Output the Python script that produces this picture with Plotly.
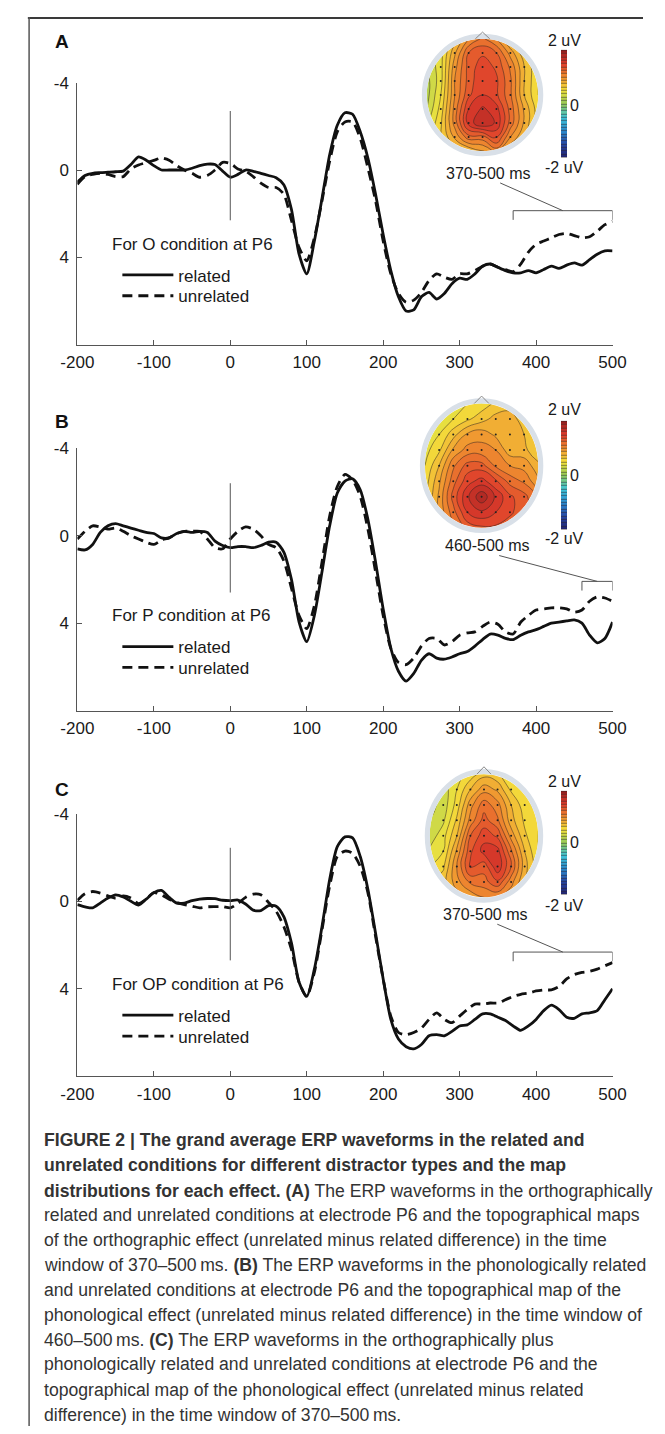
import plotly.graph_objects as go

PAGE_W, PAGE_H = 665, 1434
OFF = 8                      # default page margin of the html body
W, H = PAGE_W - 2 * OFF, PAGE_H - 2 * OFF
FONT = "Liberation Sans, Arial, Helvetica, sans-serif"

# ---------------- data ----------------
time_ms = list(range(-200, 501, 10))

A_related = [0.55, 0.25, 0.15, 0.12, 0.1, 0.08, 0.05, -0.25, -0.6, -0.45,
             -0.2, 0.0, 0.0, 0.0, 0.0, -0.08, -0.2, -0.27, -0.25, 0.05,
             0.33, 0.2, 0.0, 0.06, 0.15, 0.25, 0.35, 0.67, 1.8, 3.85,
             4.75, 3.25, 1.3, -0.7, -2.05, -2.62, -2.55, -1.75, -0.55, 1.1,
             2.95, 4.6, 5.8, 6.45, 6.4, 5.8, 5.6, 5.9, 5.65, 5.2,
             4.95, 5.0, 4.75, 4.4, 4.3, 4.45, 4.6, 4.7, 4.7, 4.6,
             4.7, 4.55, 4.4, 4.5, 4.35, 4.25, 4.35, 4.1, 3.85, 3.7, 3.7]
A_unrelated = [0.65, 0.3, 0.2, 0.15, 0.2, 0.3, 0.3, -0.05, -0.23, -0.34,
               -0.44, -0.55, -0.45, -0.2, 0.0, 0.15, 0.33, 0.25, 0.0, -0.35,
               -0.3, -0.05, 0.05, 0.3, 0.6, 0.8, 0.8, 1.1, 2.3, 3.55,
               4.15, 3.1, 1.4, -0.4, -1.75, -2.2, -2.2, -1.45, -0.1, 1.4,
               3.25, 4.75, 5.65, 6.05, 5.95, 5.6, 5.05, 4.75, 4.9, 5.0,
               4.75, 4.75, 4.6, 4.4, 4.3, 4.45, 4.55, 4.65, 4.3, 3.75,
               3.4, 3.25, 3.1, 2.95, 2.9, 3.0, 3.1, 3.05, 2.8, 2.5, 2.35]
B_related = [0.6, 0.65, 0.4, -0.15, -0.45, -0.55, -0.45, -0.35, -0.25, -0.15,
             -0.1, 0.1, 0.1, -0.1, -0.2, -0.15, -0.2, -0.15, 0.25, 0.45,
             0.55, 0.5, 0.5, 0.55, 0.45, 0.3, 0.3, 0.75, 2.0, 3.95,
             4.85, 3.65, 1.65, -0.45, -1.95, -2.5, -2.6, -2.1, -0.75, 1.2,
             3.35, 5.15, 6.2, 6.65, 6.3, 5.7, 5.4, 5.6, 5.65, 5.55,
             5.4, 5.3, 5.05, 4.75, 4.5, 4.55, 4.7, 4.75, 4.55, 4.4,
             4.3, 4.15, 4.0, 3.95, 3.9, 3.85, 4.0, 4.55, 4.9, 4.7, 3.95]
B_unrelated = [0.15, -0.2, -0.45, -0.4, -0.3, -0.35, -0.2, 0.0, 0.15, 0.3,
               0.4, 0.2, 0.1, -0.1, -0.2, -0.2, -0.2, 0.15, 0.55, 0.6,
               0.15, -0.2, -0.4, -0.3, 0.0, 0.4, 0.55, 1.15, 2.4, 3.65,
               4.25, 3.2, 1.2, -0.9, -2.25, -2.8, -2.55, -1.8, -0.3, 1.65,
               3.65, 5.15, 5.8, 5.9, 5.6, 5.05, 4.7, 4.7, 5.0, 4.85,
               4.55, 4.45, 4.4, 4.15, 3.95, 4.05, 4.4, 4.5, 3.95, 3.65,
               3.4, 3.35, 3.3, 3.3, 3.35, 3.5, 3.4, 3.0, 2.8, 2.85, 3.0]
C_related = [0.15, 0.25, 0.3, 0.08, -0.15, -0.3, -0.2, 0.0, 0.17, -0.1,
             -0.4, -0.5, -0.18, 0.08, 0.08, -0.03, -0.1, -0.13, -0.12, -0.05,
             -0.03, -0.06, 0.12, 0.4, 0.42, 0.2, 0.22, 0.7, 1.9, 3.7,
             4.35, 3.1, 1.15, -1.0, -2.5, -2.95, -2.9, -2.05, -0.55, 1.45,
             3.55, 5.4, 6.3, 6.65, 6.75, 6.55, 6.15, 6.1, 6.15, 5.95,
             5.7, 5.65, 5.4, 5.15, 5.15, 5.3, 5.45, 5.7, 5.9, 5.7,
             5.4, 5.0, 4.75, 4.95, 5.3, 5.35, 5.15, 5.1, 5.0, 4.5, 4.0]
C_unrelated = [-0.05, -0.35, -0.45, -0.38, -0.25, -0.15, -0.25, -0.15, 0.1, -0.1,
               -0.4, -0.3, -0.1, 0.05, 0.15, 0.22, 0.3, 0.25, 0.24, 0.24,
               0.3, 0.1, -0.18, -0.33, -0.3, 0.05, 0.45, 1.15, 2.2, 3.7,
               4.35, 3.25, 1.3, -0.7, -2.05, -2.3, -2.2, -1.6, -0.4, 1.6,
               3.55, 5.25, 6.0, 6.1, 6.0, 5.8, 5.4, 5.1, 5.4, 5.55,
               5.25, 4.95, 4.7, 4.7, 4.65, 4.65, 4.5, 4.35, 4.25, 4.2,
               4.1, 4.05, 4.05, 3.9, 3.55, 3.35, 3.25, 3.2, 3.1, 2.95, 2.8]

x_ticks = [-200, -100, 0, 100, 200, 300, 400, 500]
x_tick_labels = ["-200", "-100", "0", "100", "200", "300", "400", "500"]
y_ticks = [-4, 0, 4]
y_tick_labels = ["-4", "0", "4"]

panel_letters = ["A", "B", "C"]
panel_titles = ["For O condition at P6", "For P condition at P6", "For OP condition at P6"]
series_names = ["related", "unrelated"]
windows = [(370, 500), (460, 500), (370, 500)]
window_labels = ["370-500 ms", "460-500 ms", "370-500 ms"]
scale_labels = ["2 uV", "0", "-2 uV"]

# topographic maps (uV) on an electrode grid; rows run from front (top) to back (bottom)
grid_x = [-1.0, -0.75, -0.5, -0.25, 0.0, 0.25, 0.5, 0.75, 1.0]
grid_y = [1.0, 0.75, 0.5, 0.25, 0.0, -0.25, -0.5, -0.75, -1.0]
topo_A = [
    [0.35, 0.45, 0.7, 1.0, 1.15, 1.0, 0.7, 0.55, 0.45],
    [0.3, 0.45, 0.85, 1.25, 1.35, 1.25, 0.95, 0.65, 0.5],
    [0.25, 0.45, 0.95, 1.3, 1.45, 1.35, 1.1, 0.75, 0.5],
    [0.2, 0.45, 1.0, 1.3, 1.5, 1.4, 1.15, 0.75, 0.5],
    [0.2, 0.5, 1.0, 1.35, 1.5, 1.4, 1.15, 0.75, 0.5],
    [0.25, 0.55, 1.05, 1.5, 1.65, 1.55, 1.2, 0.85, 0.55],
    [0.35, 0.6, 1.05, 1.55, 1.75, 1.6, 1.2, 0.85, 0.55],
    [0.45, 0.6, 0.9, 1.2, 1.2, 1.4, 1.0, 0.75, 0.55],
    [0.45, 0.55, 0.65, 0.75, 0.85, 1.05, 0.75, 0.6, 0.5],
]
topo_B = [
    [0.4, 0.4, 0.45, 0.5, 0.55, 0.65, 0.7, 0.7, 0.6],
    [0.4, 0.4, 0.5, 0.6, 0.7, 0.8, 0.8, 0.7, 0.6],
    [0.4, 0.5, 0.7, 0.9, 0.95, 0.85, 0.8, 0.75, 0.6],
    [0.45, 0.6, 0.9, 1.05, 1.05, 1.0, 0.8, 0.8, 0.6],
    [0.5, 0.75, 1.1, 1.3, 1.3, 1.1, 1.0, 0.95, 0.8],
    [0.55, 0.85, 1.2, 1.45, 1.55, 1.4, 1.2, 1.1, 0.9],
    [0.6, 0.9, 1.3, 1.6, 1.85, 1.6, 1.4, 1.3, 1.1],
    [0.7, 0.9, 1.2, 1.5, 1.6, 1.5, 1.4, 1.3, 1.1],
    [0.7, 0.85, 1.1, 1.3, 1.35, 1.35, 1.3, 1.2, 1.0],
]
topo_C = [
    [0.3, 0.35, 0.45, 0.55, 0.7, 0.65, 0.5, 0.45, 0.4],
    [0.2, 0.3, 0.5, 0.75, 0.95, 0.85, 0.6, 0.5, 0.45],
    [0.2, 0.3, 0.55, 0.95, 1.2, 1.05, 0.75, 0.55, 0.45],
    [0.25, 0.35, 0.65, 1.05, 1.3, 1.15, 0.8, 0.6, 0.5],
    [0.3, 0.45, 0.75, 1.25, 1.45, 1.35, 0.95, 0.65, 0.5],
    [0.4, 0.5, 0.9, 1.35, 1.55, 1.55, 1.15, 0.75, 0.5],
    [0.5, 0.6, 1.0, 1.4, 1.3, 1.6, 1.25, 0.8, 0.55],
    [0.6, 0.7, 0.95, 1.15, 1.2, 1.35, 1.05, 0.75, 0.6],
    [0.6, 0.7, 0.8, 0.9, 1.0, 1.0, 0.9, 0.7, 0.6],
]

caption_lines = [
    "<b>FIGURE 2 | The grand average ERP waveforms in the related and</b>",
    "<b>unrelated conditions for different distractor types and the map</b>",
    "<b>distributions for each effect. (A)</b> The ERP waveforms in the orthographically",
    "related and unrelated conditions at electrode P6 and the topographical maps",
    "of the orthographic effect (unrelated minus related difference) in the time",
    "window of 370\u2013500\u2009ms. <b>(B)</b> The ERP waveforms in the phonologically related",
    "and unrelated conditions at electrode P6 and the topographical map of the",
    "phonological effect (unrelated minus related difference) in the time window of",
    "460\u2013500\u2009ms. <b>(C)</b> The ERP waveforms in the orthographically plus",
    "phonologically related and unrelated conditions at electrode P6 and the",
    "topographical map of the phonological effect (unrelated minus related",
    "difference) in the time window of 370\u2013500\u2009ms.",
]

# ---------------- layout geometry (page pixels) ----------------
PL, PR, PH = 63, 625, 264
geo = [
    dict(top=74, letter_y=33, head=(488.5, 86.5, 58.5, 56.5), cb=(42, 149), lab2=32, labm2=159,
         lab0=97, win=(495, 165), br=1.86, zero=(-2.7, 2.3), title_y=237, leg_y=(268, 289)),
    dict(top=442, letter_y=415, head=(487.5, 459.5, 59.5, 62.5), cb=(415, 523), lab2=403, labm2=533,
         lab0=469, win=(494, 540), br=2.09, zero=(-2.4, 2.6), title_y=610, leg_y=(642, 663)),
    dict(top=810, letter_y=785, head=(490, 832, 57, 62), cb=(787, 890), lab2=777, labm2=902,
         lab0=839, win=(492, 911), br=2.32, zero=(-2.45, 2.7), title_y=982, leg_y=(1013, 1034)),
]

JET = [[0.0, "#23236f"], [0.125, "#2648a5"], [0.25, "#2b8ccf"], [0.375, "#3fc5d8"],
       [0.5, "#93c95a"], [0.625, "#f3e23c"], [0.75, "#ef8f2f"], [0.875, "#de3b2b"],
       [1.0, "#98201f"]]


def px(x):
    return (x - OFF) / W


def py(y):
    return 1 - (y - OFF) / H


def circle_path(b=1.3, k=0.5523):
    box = f"M-{b},-{b} L{b},-{b} L{b},{b} L-{b},{b} Z "
    circ = (f"M1,0 C1,-{k} {k},-1 0,-1 C-{k},-1 -1,-{k} -1,0 "
            f"C-1,{k} -{k},1 0,1 C{k},1 1,{k} 1,0 Z")
    return box + circ


def text_ann(x, y, text, size, xanchor="center", color="#1a1a1a"):
    return dict(x=px(x), y=py(y), xref="paper", yref="paper", xanchor=xanchor, yanchor="middle",
                text=text, showarrow=False, font=dict(family=FONT, size=size, color=color))


fig = go.Figure()
shapes, annotations = [], []
layout = {}
series = [(A_related, A_unrelated), (B_related, B_unrelated), (C_related, C_unrelated)]
topos = [topo_A, topo_B, topo_C]
grid_y_asc = grid_y[::-1]

for i in range(3):
    g = geo[i]
    sfx = "" if i == 0 else str(i + 1)
    hs = str(i + 4)
    top = g["top"]
    bot = top + PH

    def xp(t):
        return PL + (t + 200) * (PR - PL) / 700.0

    def yp(v, top=top):
        return top + (v + 4) * PH / 12.0

    rel, unr = series[i]
    for k, (vals, dash) in enumerate([(rel, "solid"), (unr, "10px,6px")]):
        j = 2 * i + k
        lg = "legend" if j == 0 else f"legend{j + 1}"
        fig.add_trace(go.Scatter(
            x=time_ms, y=vals, mode="lines", name=series_names[k],
            line=dict(color="#111111", width=2.8, dash=dash, shape="spline", smoothing=0.7),
            xaxis="x" + sfx, yaxis="y" + sfx, legend=lg, hoverinfo="skip"))
        layout[lg] = dict(
            x=px(105), y=py(g["leg_y"][k]), xanchor="left", yanchor="middle",
            font=dict(family=FONT, size=17, color="#1a1a1a"), bgcolor="rgba(0,0,0,0)",
            borderwidth=0, itemwidth=51, tracegroupgap=0)

    layout["xaxis" + sfx] = dict(
        domain=[px(PL), px(PR)], range=[-200, 500], anchor="y" + sfx,
        showline=True, linecolor="#555555", linewidth=1, ticks="inside", ticklen=5,
        tickcolor="#555555", tickvals=x_ticks, ticktext=x_tick_labels, showgrid=False,
        zeroline=False, tickfont=dict(family=FONT, size=17, color="#1a1a1a"),
        ticklabelstandoff=2, fixedrange=True)
    layout["yaxis" + sfx] = dict(
        domain=[py(bot), py(top)], range=[8, -4], anchor="x" + sfx,
        showline=True, linecolor="#555555", linewidth=1, ticks="inside", ticklen=5,
        tickcolor="#555555", tickvals=y_ticks, ticktext=y_tick_labels, showgrid=False,
        zeroline=False, tickfont=dict(family=FONT, size=17, color="#1a1a1a"),
        ticklabelstandoff=4, fixedrange=True)

    # stimulus-onset marker
    shapes.append(dict(type="line", xref="x" + sfx, yref="y" + sfx, x0=0, x1=0,
                       y0=g["zero"][0], y1=g["zero"][1], line=dict(color="#555555", width=1)))
    # time-window bracket
    w0, w1 = windows[i]
    bv = g["br"]
    for (a, b, c, d) in [(w0, bv, w1, bv), (w0, bv, w0, bv + 0.42), (w1, bv, w1, bv + 0.42)]:
        shapes.append(dict(type="line", xref="x" + sfx, yref="y" + sfx, x0=a, y0=b, x1=c, y1=d,
                           line=dict(color="#555555", width=1)))
    mid = (w0 + w1) / 2.0
    wx, wy = g["win"]
    shapes.append(dict(type="line", xref="paper", yref="paper",
                       x0=px(wx + 12), y0=py(wy + 10), x1=px(xp(mid)), y1=py(yp(bv)),
                       line=dict(color="#555555", width=1)))

    # topographic map
    cx, cy, rx, ry = g["head"]
    layout["xaxis" + hs] = dict(domain=[px(cx - 1.2 * rx), px(cx + 1.2 * rx)], range=[-1.2, 1.2],
                                visible=False, anchor="y" + hs, fixedrange=True)
    layout["yaxis" + hs] = dict(domain=[py(cy + 1.2 * ry), py(cy - 1.2 * ry)], range=[-1.2, 1.2],
                                visible=False, anchor="x" + hs, fixedrange=True)
    cb_top, cb_bot = g["cb"]
    fig.add_trace(go.Contour(
        x=grid_x, y=grid_y_asc, z=topos[i][::-1], colorscale=JET, zmin=-2, zmax=2,
        autocontour=False, contours=dict(start=-2, end=2, size=0.125, coloring="fill", showlines=True),
        line=dict(color="rgba(45,35,35,0.85)", width=0.6, smoothing=1.3),
        colorbar=dict(x=px(571), xanchor="left", y=py((cb_top + cb_bot) / 2), yanchor="middle",
                      len=cb_bot - cb_top, lenmode="pixels", thickness=6, thicknessmode="pixels",
                      outlinewidth=0, showticklabels=False, ticks="", xpad=0, ypad=0),
        xaxis="x" + hs, yaxis="y" + hs, showlegend=False, hoverinfo="skip"))
    ex = [x for yy in grid_y for x in grid_x if x * x + yy * yy <= 0.85]
    ey = [yy for yy in grid_y for x in grid_x if x * x + yy * yy <= 0.85]
    fig.add_trace(go.Scatter(x=ex, y=ey, mode="markers", marker=dict(size=2, color="#222222"),
                             xaxis="x" + hs, yaxis="y" + hs, showlegend=False, hoverinfo="skip"))
    shapes.append(dict(type="path", xref="x" + hs, yref="y" + hs, path=circle_path(),
                       fillcolor="white", line=dict(width=0), layer="above"))
    shapes.append(dict(type="circle", xref="x" + hs, yref="y" + hs, x0=-1.045, x1=1.045,
                       y0=-1.045, y1=1.045, line=dict(color="#d9e0e8", width=5), layer="above"))
    shapes.append(dict(type="path", xref="x" + hs, yref="y" + hs,
                       path="M-0.13,1.0 L0,1.12 L0.13,1.0", fillcolor="rgba(0,0,0,0)",
                       line=dict(color="#8a8a8a", width=1), layer="above"))

    # texts
    annotations.append(text_ann(47, g["letter_y"], "<b>" + panel_letters[i] + "</b>", 19, color="#111111"))
    annotations.append(text_ann(97, g["title_y"], panel_titles[i], 17, xanchor="left"))
    annotations.append(text_ann(575, g["lab2"], scale_labels[0], 16))
    annotations.append(text_ann(575, g["labm2"], scale_labels[2], 16))
    annotations.append(text_ann(578, g["lab0"], scale_labels[1], 16, xanchor="left"))
    annotations.append(text_ann(wx, wy, window_labels[i], 16))

# caption
caption_y = [1138, 1163, 1189, 1214, 1239, 1264, 1289, 1314, 1339, 1364, 1390, 1415]
for yv, line in zip(caption_y, caption_lines):
    annotations.append(text_ann(26, yv, line, 17.6, xanchor="left", color="#333333"))

# frame
shapes.append(dict(type="line", xref="paper", yref="paper", x0=px(11), x1=1, y0=py(9), y1=py(9),
                   line=dict(color="#3a3a3a", width=2)))
shapes.append(dict(type="line", xref="paper", yref="paper", x0=px(12.3), x1=px(12.3), y0=py(8), y1=0,
                   line=dict(color="#555555", width=1.5)))

fig.update_layout(width=W, height=H, margin=dict(l=0, r=0, t=0, b=0),
                  paper_bgcolor="white", plot_bgcolor="white", showlegend=True,
                  font=dict(family=FONT), shapes=shapes, annotations=annotations, **layout)

fig.write_html("out.html")
